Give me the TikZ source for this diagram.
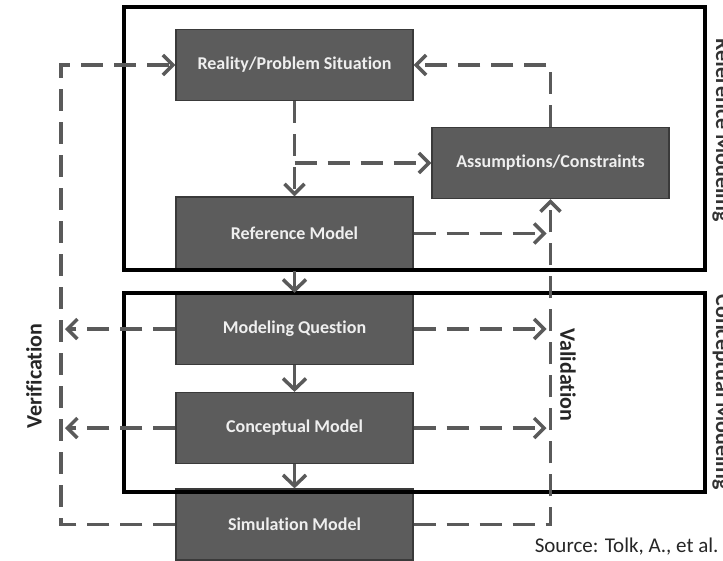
\documentclass[tikz,border=0pt]{standalone}
\usepackage{fontspec}
\setmainfont[Ligatures=NoCommon]{Carlito}
\usetikzlibrary{arrows.meta,calc}
\definecolor{boxfill}{HTML}{5C5C5C}
\definecolor{boxedge}{HTML}{3A3A3A}
\definecolor{lgray}{HTML}{5A5A5A}
\definecolor{txtw}{HTML}{EFEFEF}
\begin{document}
\begin{tikzpicture}[x=1pt,y=-1pt,
  box/.style={draw=boxedge, fill=boxfill, line width=1.2pt, minimum width=237pt,
    minimum height=71pt, inner sep=0pt, text=txtw,
    font=\bfseries\fontsize{18}{20}\selectfont},
  frame/.style={draw=black, line width=3.5pt},
  dsh/.style={draw=lgray, line width=3.5pt, dash pattern=on 22pt off 11pt},
  sld/.style={draw=lgray, line width=3.5pt},
  vtip/.style={-{Straight Barb[length=10pt,width=20pt]}},
  btip/.style={-{Straight Barb[length=11pt,width=23pt]}},
  lbl/.style={font=\bfseries\fontsize{22}{24}\selectfont}]
\useasboundingbox (0,0) rectangle (723,560);
% boxes
\node[box] (real) at (294.5,65) {Reality/Problem Situation};
\node[box] (assum) at (550.5,163) {Assumptions/Constraints};
\node[box, minimum height=73pt] (ref) at (294.5,233.5) {Reference Model};
\node[box] (mq) at (294.5,329) {Modeling Question};
\node[box] (cm) at (294.5,428) {Conceptual Model};
\node[box] (sim) at (294.5,524.5) {Simulation Model};
% frames
\draw[frame] (124,7) rectangle (705,270);
\draw[frame] (124,293) rectangle (705,492);
% helper coordinates
\coordinate (vx) at (assum.south);
\coordinate (vl) at (61,0);
% solid arrows
\draw[sld, btip] (ref.south) -- (mq.north);
\draw[sld, btip] (mq.south) -- (cm.north);
\draw[sld, btip] (cm.south) -- (sim.north);
% dashed arrows (reference modeling)
\draw[dsh, vtip] (real.south) -- (ref.north);
\draw[dsh, vtip] (real.south |- assum.west) -- (assum.west);
\draw[dsh, vtip] (assum.north) |- (real.east);
\draw[dsh, vtip] (ref.east) -- ($(ref.east -| vx)+(-4,0)$);
% validation
\draw[dsh, vtip] (sim.east) -| (assum.south);
\draw[dsh, vtip] (mq.east) -- ($(mq.east -| vx)+(-4,0)$);
\draw[dsh, vtip] (cm.east) -- ($(cm.east -| vx)+(-4,0)$);
% verification
\draw[dsh, vtip] (sim.west) -| (real.west -| vl) -- (real.west);
\draw[dsh, vtip] (mq.west) -- ($(mq.west -| vl)+(4,0)$);
\draw[dsh, vtip] (cm.west) -- ($(cm.west -| vl)+(4,0)$);
% labels
\node[lbl, rotate=90, text=black!85] (ver) at (34,376) {Verification};
\node[lbl, rotate=-90, text=black!85] (val) at (568,375) {Validation};
\node[lbl, rotate=-90, anchor=base, text=black!80] (rml) at (716,130) {Reference Modeling};
\node[lbl, rotate=-90, anchor=base, text=black!80] (cml) at (716,392) {Conceptual Modeling};
\node[anchor=base east, font=\fontsize{21}{24}\selectfont, text=black!85] (src) at (722,552) {Source: Tolk, A., et al.};
\end{tikzpicture}
\end{document}
